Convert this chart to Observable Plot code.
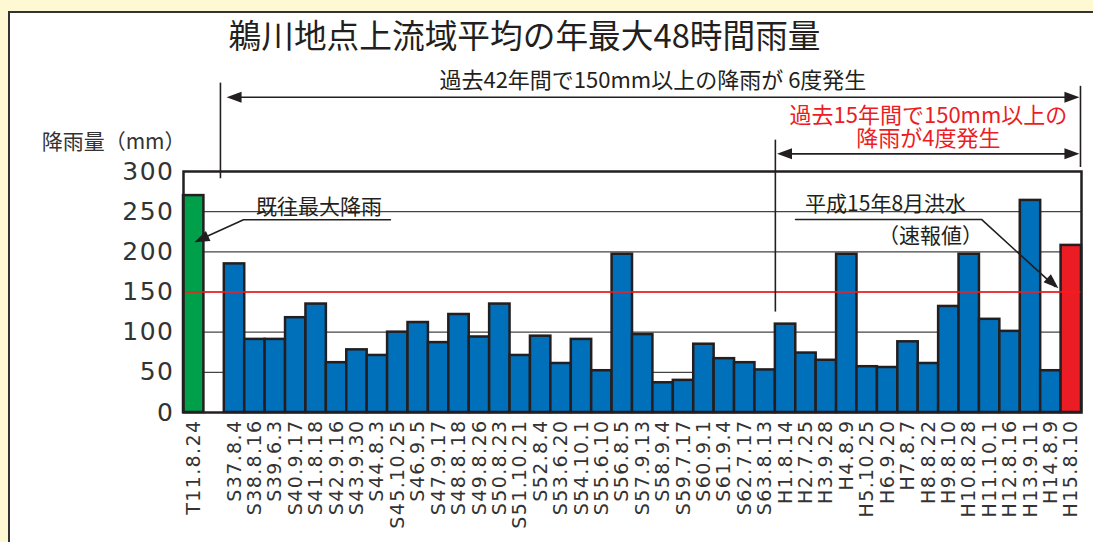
<!DOCTYPE html>
<html>
<head>
<meta charset="utf-8">
<script src="https://cdn.jsdelivr.net/npm/d3@7"></script>
<script src="https://cdn.jsdelivr.net/npm/@observablehq/plot@0.6"></script>
<style>
  html, body { margin: 0; padding: 0; }
  body { width: 1093px; height: 542px; background: #fef8d3; position: relative; overflow: hidden; }
  #panel { position: absolute; left: 8px; top: 11px; width: 1100px; height: 560px; background: #fff; border-left: 2px solid #333; border-top: 2px solid #333; }
  #chart { position: absolute; left: 0; top: 0; }
  g[aria-label="x-axis tick label"] text { letter-spacing: 1.4px; }
  g[aria-label="y-axis tick label"] text { letter-spacing: 1.5px; }
</style>
</head>
<body>
<div id="panel"></div>
<div id="chart"></div>
<script>
// ---- data ----
const dates = ["T11.8.24",
  "S37.8.4","S38.8.16","S39.6.3","S40.9.17","S41.8.18","S42.9.16","S43.9.30","S44.8.3","S45.10.25","S46.9.5",
  "S47.9.17","S48.8.18","S49.8.26","S50.8.23","S51.10.21","S52.8.4","S53.6.20","S54.10.1","S55.6.10","S56.8.5",
  "S57.9.13","S58.9.4","S59.7.17","S60.9.1","S61.9.4","S62.7.17","S63.8.13",
  "H1.8.14","H2.7.25","H3.9.28","H4.8.9","H5.10.25","H6.9.20","H7.8.7","H8.8.22","H9.8.10","H10.8.28",
  "H11.10.1","H12.8.16","H13.9.11","H14.8.9","H15.8.10"];
const rain = [270,
  185,91,91,118,135,62,78,71,100,112,
  87,122,94,135,71,95,61,91,52,197,
  97,37,40,85,67,62,53,
  110,74,65,197,57,56,88,61,132,197,
  116,101,264,52,208];
const yTicks = [0,50,100,150,200,250,300];
const threshold = 150;
const title = "鵜川地点上流域平均の年最大48時間雨量";
const note42 = "過去42年間で150mm以上の降雨が 6度発生";
const note15 = ["過去15年間で150mm以上の", "降雨が4度発生"];
const yLabel = "降雨量（mm）";
const noteMax = "既往最大降雨";
const noteH15 = ["平成15年8月洪水", "（速報値）"];

// ---- build ----
const slotOf = k => (k === 0 ? 0 : k + 1); // one empty slot after the first bar
const table = dates.map((d, k) => ({date: d, value: rain[k], x1: slotOf(k), x2: slotOf(k) + 1,
  fill: k === 0 ? "#00a04b" : k === dates.length - 1 ? "#ec1c24" : "#0070bb"}));
const tickPos = table.map(d => d.x1 + 0.5);
const labelAt = new Map(table.map(d => [d.x1 + 0.5, d.date]));

const INK = "#231f20";
const JP = "'Noto Sans CJK JP', 'Noto Sans', sans-serif";
const NUM = "'DejaVu Sans', sans-serif";

function head(deg) {
  const a = deg * Math.PI / 180, c = Math.cos(a), s = Math.sin(a);
  const pts = [[0, 0], [-5.5, 15], [5.5, 15]].map(([x, y]) => [x * c - y * s, x * s + y * c]);
  return {draw(ctx) { ctx.moveTo(pts[0][0], pts[0][1]); ctx.lineTo(pts[1][0], pts[1][1]); ctx.lineTo(pts[2][0], pts[2][1]); ctx.closePath(); }};
}

const chart = Plot.plot({
  width: 1093, height: 542,
  marginTop: 171, marginBottom: 130, marginLeft: 183, marginRight: 12,
  x: {domain: [0, 44]},
  y: {domain: [0, 300]},
  style: {background: "transparent", overflow: "visible", color: INK},
  marks: [
    Plot.ruleY(yTicks.filter(v => v > 0 && v < 300), {stroke: "#444", strokeWidth: 1.2}),
    Plot.rectY(table, {x1: "x1", x2: "x2", y1: 0, y2: "value", fill: "fill", stroke: INK, strokeWidth: 2.5}),
    Plot.ruleY([threshold], {stroke: "#ff1a1a", strokeWidth: 1.5}),
    Plot.frame({stroke: INK, strokeWidth: 2.5}),
    Plot.axisY(yTicks, {tickSize: 0, tickPadding: 9, fontSize: 25, fontFamily: NUM, fill: "#333", label: null}),
    Plot.axisX(tickPos, {tickFormat: d => labelAt.get(d), tickRotate: -90, tickSize: 0, tickPadding: 7,
      fontSize: 19, fontFamily: NUM, fill: "#333", label: null}),
    // title & axis label
    Plot.text([title], {x: 16.71, y: 467, text: d => d, fontSize: 32.7, fontFamily: JP, fill: INK}),
    Plot.text([yLabel], {x: 0.1, y: 336, text: d => d, textAnchor: "end", fontSize: 21, fontFamily: JP, fill: "#333"}),
    // span markers
    Plot.ruleX([{x: 1.81, y1: 291, y2: 410}, {x: 43.95, y1: 305, y2: 406}, {x: 29.0, y1: 125, y2: 339}],
      {x: "x", y1: "y1", y2: "y2", stroke: INK, strokeWidth: 1.6}),
    Plot.ruleY([{y: 392.5, x1: 2.3, x2: 43.7}, {y: 322, x1: 29.3, x2: 43.7}],
      {y: "y", x1: "x1", x2: "x2", stroke: INK, strokeWidth: 1.6}),
    Plot.dot([{x: 2.11, y: 392.5}, {x: 29.08, y: 322}], {x: "x", y: "y", symbol: head(-90), fill: INK, stroke: "none"}),
    Plot.dot([{x: 43.9, y: 392.5}, {x: 43.9, y: 322}], {x: "x", y: "y", symbol: head(90), fill: INK, stroke: "none"}),
    Plot.text([note42], {x: 23.0, y: 413, text: d => d, fontSize: 22, fontFamily: JP, fill: INK}),
    Plot.text(note15, {x: 36.5, y: (d, i) => [369.5, 340.5][i], text: d => d, fontSize: 22, fontFamily: JP, fill: "#ec1c24"}),
    // 既往最大降雨 callout
    Plot.text([noteMax], {x: 6.64, y: 256, text: d => d, fontSize: 21, fontFamily: JP, fill: INK}),
    Plot.line([[10.14, 240], [2.94, 240], [0.7, 214]], {x: "0", y: "1", stroke: INK, strokeWidth: 1.6}),
    Plot.dot([{x: 0.54, y: 212}], {x: "x", y: "y", symbol: head(-114.6), fill: INK, stroke: "none"}),
    // 平成15年8月洪水 callout
    Plot.text(noteH15, {x: (d, i) => [34.4, 36.6][i], y: (d, i) => [259, 220][i], text: d => d, fontSize: 21, fontFamily: JP, fill: INK}),
    Plot.line([[29.99, 240.3], [39.1, 240.3], [42.7, 157]], {x: "0", y: "1", stroke: INK, strokeWidth: 1.6}),
    Plot.dot([{x: 42.87, y: 154.7}], {x: "x", y: "y", symbol: head(131.7), fill: INK, stroke: "none"})
  ]
});
document.getElementById("chart").appendChild(chart);
</script>
</body>
</html>
